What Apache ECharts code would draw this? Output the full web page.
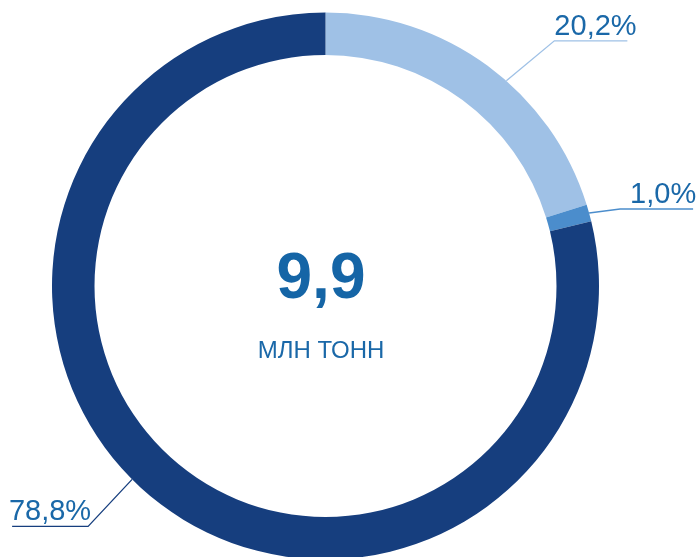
<!DOCTYPE html>
<html>
<head>
<meta charset="utf-8">
<script src="https://cdn.jsdelivr.net/npm/echarts@6/dist/echarts.min.js"></script>
<style>
    html, body { margin: 0; padding: 0; background: #fff; }
    #chart { width: 697px; height: 557px; }
</style>
</head>
<body>
<div id="chart"></div>
<script>
// ---------------- DATA ----------------
let shares = [20.2, 1.0, 78.8];
let shareLabels = ["20,2%", "1,0%", "78,8%"];
let totalValue = "9,9";
let totalUnit = "МЛН ТОНН";

let colors = ["#9fc1e6", "#4b8dcc", "#163e7e"];
let textColor = "#1a68a8";

let pieCenter = [325.5, 286];
let pieRadius = [231, 273.5];

// leader line tweaks per label: where it leaves the ring (deg, null = slice middle),
// bend offset from that point, text shift, underline length
let leader = [
    { angle: 48.6, dx: 48, dy: -40, textDx: 0, len: 73, side: "right" },
    { angle: null, dx: 31, dy: -4, textDx: 10, len: 73, side: "right" },
    { angle: 225, dx: -44, dy: 47, textDx: 3, len: 76, side: "left" }
];

let chart = echarts.init(document.getElementById("chart"));

chart.setOption({
    animation: false,
    backgroundColor: "#fff",
    graphic: [
        {
            type: "text",
            x: 321, y: 280,
            style: {
                text: totalValue,
                fill: "#1565a6",
                font: "bold 64px 'Liberation Sans'",
                align: "center",
                verticalAlign: "middle"
            }
        },
        {
            type: "text",
            x: 321, y: 351,
            style: {
                text: totalUnit,
                fill: textColor,
                font: "24px 'Liberation Sans'",
                align: "center",
                verticalAlign: "middle"
            }
        }
    ],
    series: [{
        type: "pie",
        center: pieCenter,
        radius: pieRadius,
        startAngle: 90,
        clockwise: true,
        avoidLabelOverlap: false,
        silent: true,
        data: shares.map((v, i) => ({
            value: v,
            name: shareLabels[i],
            itemStyle: { color: colors[i] },
            labelLine: { lineStyle: { color: colors[i], width: 1.3 } }
        })),
        label: {
            show: true,
            position: "outside",
            formatter: "{b}",
            color: textColor,
            fontFamily: "Liberation Sans",
            fontSize: 29
        },
        labelLine: { show: true, length: 10, length2: 10, smooth: false },
        labelLayout: function (params) {
            let l = leader[params.dataIndex];
            let start = params.labelLinePoints[0];
            if (l.angle !== null) {
                let a = l.angle * Math.PI / 180;
                start = [pieCenter[0] + pieRadius[1] * Math.cos(a),
                         pieCenter[1] - pieRadius[1] * Math.sin(a)];
            }
            let bend = [start[0] + l.dx, start[1] + l.dy];
            let right = l.side === "right";
            let end = [right ? bend[0] + l.len : bend[0] - l.len, bend[1]];
            return {
                x: bend[0] + l.textDx,
                y: bend[1] - 14,
                align: right ? "left" : "right",
                verticalAlign: "middle",
                labelLinePoints: [start, bend, end]
            };
        }
    }]
});
</script>
</body>
</html>
